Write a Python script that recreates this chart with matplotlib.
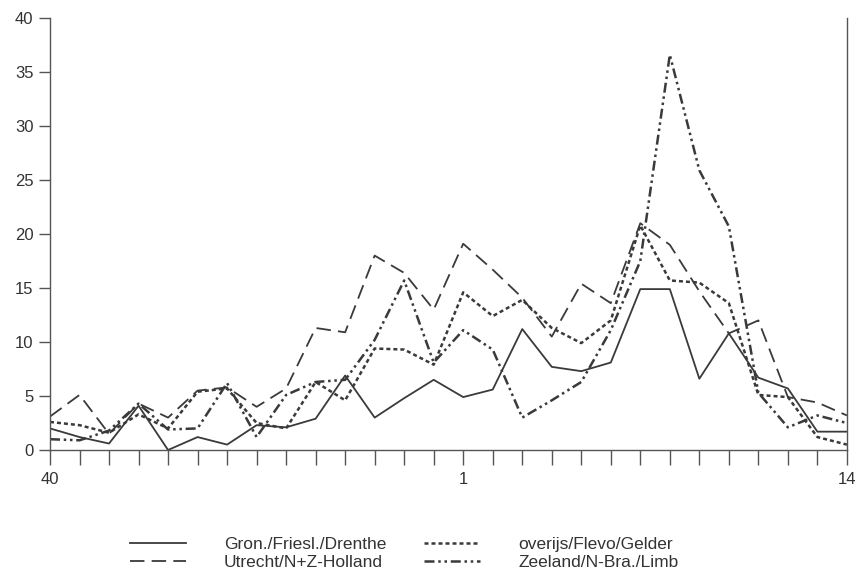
import numpy as np
import matplotlib
matplotlib.use("Agg")
import matplotlib.pyplot as plt

plt.rcParams['font.family'] = ['Liberation Sans', 'DejaVu Sans']

# weeks 40..53 and 1..14
weeks = list(range(40, 54)) + list(range(1, 15))
tick_labels = {40: "40", 1: "1", 14: "14"}

gron = [2.0, 1.2, 0.6, 4.1, 0.0, 1.2, 0.5, 2.3, 2.1, 2.9, 6.9, 3.0, 4.8, 6.5,
        4.9, 5.6, 11.2, 7.7, 7.3, 8.1, 14.9, 14.9, 6.6, 10.8, 6.7, 5.7, 1.7, 1.7]
utrecht = [3.1, 5.1, 1.5, 4.3, 3.0, 5.5, 5.8, 4.0, 5.7, 11.3, 10.9, 18.0, 16.4, 13.0,
           19.1, 16.7, 14.1, 10.5, 15.4, 13.6, 21.0, 19.0, 14.7, 10.8, 12.0, 4.9, 4.4, 3.2]
overijs = [2.6, 2.3, 1.6, 3.3, 2.0, 5.4, 5.7, 2.5, 2.0, 6.3, 4.6, 9.4, 9.3, 7.9,
           14.6, 12.4, 13.9, 11.3, 9.9, 12.0, 20.8, 15.7, 15.5, 13.6, 5.1, 4.9, 1.2, 0.5]
zeeland = [1.0, 0.9, 1.8, 4.3, 1.9, 2.0, 6.2, 1.2, 5.1, 6.3, 6.5, 10.2, 15.7, 8.1,
           11.1, 9.3, 3.0, 4.6, 6.3, 11.1, 17.5, 36.6, 25.9, 20.7, 5.3, 2.1, 3.2, 2.5]

ink = "#3a3a3a"
x = np.arange(len(weeks))

fig = plt.figure(figsize=(8.62, 5.74), dpi=100)
ax = fig.add_axes([0.058, 0.216, 0.9245, 0.7526])

ax.plot(x, gron, color=ink, lw=1.3, ls="-", label="Gron./Friesl./Drenthe")
ax.plot(x, utrecht, color=ink, lw=1.3, ls=(0, (8, 4)), label="Utrecht/N+Z-Holland")
ax.plot(x, overijs, color=ink, lw=1.8, ls=(0, (1.6, 1.2)), label="overijs/Flevo/Gelder")
ax.plot(x, zeeland, color=ink, lw=1.8, ls=(0, (4, 1.5, 1, 1.5, 1, 1.5)),
        label="Zeeland/N-Bra./Limb")

ax.set_xlim(0, len(weeks) - 1)
ax.set_ylim(0, 40)
ax.set_yticks(np.arange(0, 41, 5))
ax.set_xticks(x)
ax.set_xticklabels([tick_labels.get(w, "") for w in weeks])

ax.spines["top"].set_visible(False)
for side in ("left", "bottom", "right"):
    ax.spines[side].set_color("#555555")
    ax.spines[side].set_linewidth(1.0)

ax.tick_params(axis="x", direction="out", length=11, width=1.0, color="#555555",
               labelsize=12, labelcolor="#333333", pad=5)
ax.tick_params(axis="y", direction="out", length=8, width=1.0, color="#555555",
               labelsize=12, labelcolor="#333333", pad=4)

handles, labels = ax.get_legend_handles_labels()
fig.legend(handles, labels, ncol=2, loc="upper left", bbox_to_anchor=(0.151, 0.064),
           frameon=False, fontsize=12.5, borderpad=0, borderaxespad=0,
           handlelength=3.2, handletextpad=2.2, columnspacing=2.2,
           labelspacing=0.12, labelcolor="#333333")

fig.savefig("out.png", dpi=100)
